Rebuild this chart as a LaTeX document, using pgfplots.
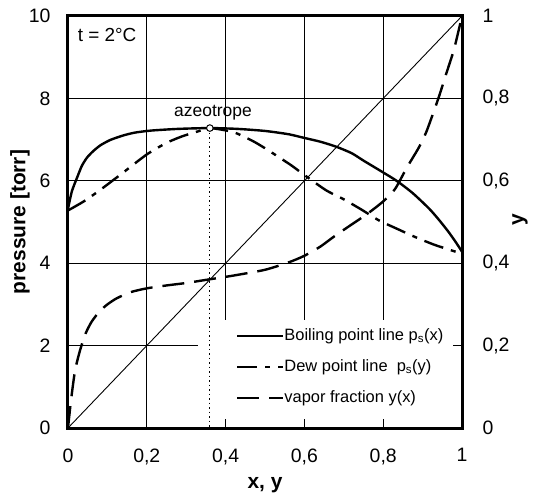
\documentclass[border=0pt]{standalone}
\usepackage{fontspec}
\setmainfont{Liberation Sans}
\usepackage{pgfplots}
\pgfplotsset{compat=1.18}
\begin{document}
\begin{tikzpicture}
\pgfplotsset{
  common/.style={
    scale only axis, width=394bp, height=412bp,
    xmin=0, xmax=1,
    /pgf/number format/assume math mode=true,
    tick label style={font=\fontsize{19.5}{19.5}\selectfont, black},
    label style={font=\fontsize{21}{21}\selectfont\bfseries},
    tick align=inside,
    major tick length=8bp,
    major tick style={line width=1.2bp, black},
    axis line style={line width=3bp, black},
  }
}
\begin{axis}[common, name=main,
  ymin=0, ymax=10,
  xtick={0,0.2,0.4,0.6,0.8,1},
  xticklabels={0,{0,2},{0,4},{0,6},{0,8},1},
  ytick={0,2,4,6,8,10},
  xtick pos=bottom, ytick pos=left,
  xticklabel style={yshift=-17bp},
  yticklabel style={xshift=-14bp},
  grid=major, grid style={line width=1.2bp, black},
  xlabel={x, y}, ylabel={pressure [torr]},
  xlabel style={at={(axis description cs:0.5,-0.138)}, anchor=center},
  ylabel style={at={(axis description cs:-0.122,0.5)}, anchor=center},
]
\fill[white] ([yshift=9bp]axis cs:0.33,0) rectangle ([xshift=-9bp]axis cs:1,2.62);
% boiling point line p_s(x)
\addplot[line width=2.4bp, smooth, tension=0.4] coordinates {
(0,5.32) (0.01,5.75) (0.024,6.1) (0.035,6.36) (0.048,6.56) (0.064,6.72)
(0.082,6.86) (0.107,6.99) (0.14,7.1) (0.17,7.17) (0.212,7.22) (0.28,7.26)
(0.36,7.28) (0.43,7.26) (0.5,7.21) (0.56,7.13) (0.6,7.04) (0.64,6.95)
(0.68,6.83) (0.72,6.67) (0.75,6.49) (0.79,6.26) (0.834,6.0) (0.875,5.7)
(0.916,5.33) (0.94,5.07) (0.965,4.77) (0.985,4.5) (1,4.28)};
% dew point line p_s(y)
\addplot[line width=2.4bp, dash pattern=on 20bp off 8bp on 5bp off 8bp, smooth, tension=0.4] coordinates {
(0,5.28) (0.04,5.5) (0.082,5.78) (0.14,6.2) (0.2,6.64) (0.25,6.92)
(0.29,7.08) (0.33,7.2) (0.36,7.28) (0.42,7.18) (0.47,6.96) (0.505,6.76)
(0.566,6.38) (0.6,6.14) (0.655,5.77) (0.7,5.55) (0.745,5.3) (0.789,5.04)
(0.834,4.84) (0.88,4.64) (0.932,4.44) (1,4.23)};
% azeotrope
\addplot[line width=1.2bp, dash pattern=on 1.5bp off 3bp] coordinates {(0.36,7.28) (0.36,0)};
\addplot[only marks, mark=*, mark size=3.3bp, mark options={fill=white, draw=black, line width=1bp}] coordinates {(0.36,7.28)};
\node[font=\fontsize{17.5}{17.5}\selectfont] at (axis cs:0.368,7.66) {azeotrope};
\node[anchor=west, font=\fontsize{19}{19}\selectfont] at (axis cs:0.016,9.53) {t = 2°C};
\end{axis}
\begin{axis}[common,
  ymin=0, ymax=1,
  axis x line=none, axis y line*=right,
  ytick={0,0.2,0.4,0.6,0.8,1},
  yticklabels={0,{0,2},{0,4},{0,6},{0,8},1},
  yticklabel style={xshift=17bp},
  legend style={draw=none, fill=none, at={(axis description cs:0.426,0.243)}, anchor=north west,
    font=\fontsize{16.5}{16.5}\selectfont, inner sep=0pt, row sep=15bp,
    nodes={inner sep=0pt, text height=12bp, text depth=4bp},
    cells={anchor=west}},
  legend image code/.code={\draw[#1] (0bp,0bp) -- (46bp,0bp);},
]
\addplot[line width=0.9bp, forget plot] coordinates {(0,0) (1,1)};
\addlegendimage{line width=2.4bp}
\addlegendentry{Boiling point line p\textsubscript{s}(x)}
\addlegendimage{line width=2.4bp, dash pattern=on 20bp off 8bp on 5bp off 8bp}
\addlegendentry{Dew point line \ p\textsubscript{s}(y)}
% vapor fraction y(x)
\addplot[line width=2.4bp, dash pattern=on 22bp off 10bp, smooth, tension=0.4] coordinates {
(0,0) (0.008,0.07) (0.018,0.14) (0.031,0.19) (0.045,0.23) (0.06,0.258)
(0.08,0.283) (0.1,0.3) (0.124,0.315) (0.16,0.33) (0.2,0.339) (0.25,0.346)
(0.3,0.352) (0.36,0.361) (0.42,0.37) (0.5,0.384) (0.56,0.402) (0.6,0.418)
(0.64,0.44) (0.68,0.468) (0.72,0.494) (0.76,0.52) (0.8,0.55) (0.83,0.58)
(0.86,0.632) (0.89,0.68) (0.91,0.72) (0.94,0.8) (0.96,0.86) (0.98,0.92) (1,1)};
\addlegendentry{vapor fraction y(x)}
\end{axis}
\node[rotate=90, font=\fontsize{21}{21}\selectfont\bfseries] at ([xshift=58bp,yshift=2bp]main.east) {y};
\path ([xshift=-68bp,yshift=-76bp]main.south west) rectangle ([xshift=79bp,yshift=16bp]main.north east);
\end{tikzpicture}
\end{document}
